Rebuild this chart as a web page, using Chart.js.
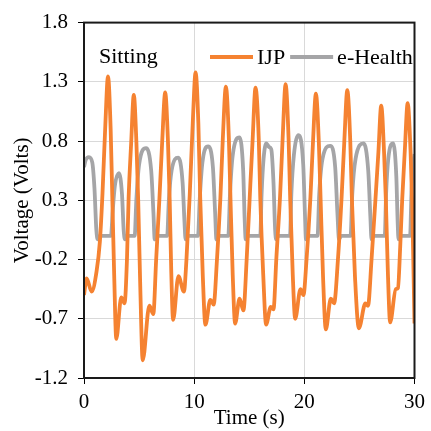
<!DOCTYPE html>
<html>
<head>
<meta charset="utf-8">
<script src="https://cdn.jsdelivr.net/npm/chart.js@4.4.1/dist/chart.umd.min.js"></script>
<style>
  html, body { margin: 0; padding: 0; background: #fff; }
  #wrap { width: 431px; height: 431px; }
</style>
</head>
<body>
<div id="wrap"><canvas id="voltChart" width="431" height="431"></canvas></div>
<script>
// values
const ijpTime = [
  0, 0.24, 0.69, 1.14, 1.44, 1.68, 1.92, 2.18, 2.42, 2.56, 2.74, 2.93, 3.38, 3.68,
  3.90, 4.05, 4.28, 4.52, 4.76, 4.92, 5.10, 5.33, 5.93, 6.29,
  6.55, 6.85, 7.10, 7.37, 7.62, 7.78, 7.92, 8.09, 8.57, 9.07,
  9.30, 9.60, 9.87, 10.13, 10.38, 10.55, 10.78, 11.02, 11.47, 11.77,
  12.07, 12.38, 12.60, 12.88, 13.15, 13.30, 13.50, 13.72, 14.12, 14.47,
  14.77, 15.05, 15.30, 15.57, 15.87, 16.00, 16.27, 16.53, 16.95, 17.20,
  17.46, 17.80, 18.03, 18.30, 18.57, 18.72, 18.95, 19.17, 19.65, 19.92,
  20.20, 20.55, 20.78, 21.05, 21.32, 21.48, 21.70, 21.95, 22.40, 22.70,
  23.05, 23.38, 23.63, 23.90, 24.17, 24.32, 24.60, 24.95, 25.54, 25.78,
  26.10, 26.45, 26.72, 26.98, 27.24, 27.40, 27.58, 27.79, 28.30, 28.50,
  28.70, 28.88, 29.12, 29.38, 29.64, 29.78, 29.92, 30.00
];
const ijpVolts = [
  -0.50, -0.36, -0.47, -0.30, -0.05, 0.36, 0.90, 1.345, 0.90, 0.36, -0.33, -0.87, -0.52, -0.57,
  -0.20, 0.32, 0.78, 1.19, 0.78, 0.30, -0.40, -1.05, -0.59, -0.66,
  -0.20, 0.32, 0.80, 1.21, 0.80, 0.30, -0.30, -0.71, -0.34, -0.47,
  -0.20, 0.35, 0.95, 1.38, 0.95, 0.32, -0.33, -0.75, -0.54, -0.58,
  -0.20, 0.32, 0.82, 1.26, 0.82, 0.30, -0.33, -0.74, -0.53, -0.63,
  -0.19, 0.34, 0.80, 1.25, 0.80, 0.32, -0.33, -0.75, -0.60, -0.62,
  -0.19, 0.34, 0.82, 1.28, 0.82, 0.30, -0.33, -0.70, -0.45, -0.50,
  -0.20, 0.32, 0.78, 1.20, 0.78, 0.30, -0.35, -0.79, -0.53, -0.57,
  -0.20, 0.32, 0.80, 1.23, 0.80, 0.30, -0.35, -0.78, -0.57, -0.59,
  -0.20, 0.30, 0.70, 1.10, 0.70, 0.30, -0.30, -0.73, -0.45, -0.44,
  -0.10, 0.30, 0.72, 1.12, 0.72, 0.30, -0.35, -0.74
];

const ehTime = [
  0, 0.15, 0.45, 0.75, 0.95, 1.12, 1.25, 1.45, 2.45, 2.60, 2.80, 3.17, 3.45, 3.60, 3.72, 3.90,
  4.60, 4.75, 5.00, 5.63, 6.10, 6.30, 6.42, 6.60,
  7.55, 7.70, 7.95, 8.56, 8.95, 9.12, 9.22, 9.40,
  10.35, 10.50, 10.75, 11.26, 11.70, 11.90, 12.02, 12.20,
  13.10, 13.25, 13.50, 14.12, 14.45, 14.58, 14.68, 14.88,
  16.00, 16.12, 16.30, 16.55, 16.80, 17.00, 17.20, 17.35, 17.45, 17.65,
  18.70, 18.82, 19.05, 19.48, 19.90, 20.05, 20.15, 20.35,
  21.20, 21.35, 21.65, 22.35, 22.80, 23.00, 23.15, 23.35,
  24.20, 24.35, 24.65, 25.38, 25.80, 26.00, 26.10, 26.30,
  27.30, 27.42, 27.62, 28.07, 28.35, 28.47, 28.55, 28.75,
  29.60, 29.72, 29.85, 30.00
];
const ehVolts = [
  0.58, 0.64, 0.665, 0.62, 0.40, 0.05, -0.03, 0.00, 0.00, 0.20, 0.42, 0.53, 0.35, 0.05, -0.03, 0.00,
  0.00, 0.30, 0.60, 0.74, 0.55, 0.20, -0.03, 0.00,
  0.00, 0.30, 0.55, 0.66, 0.45, 0.12, -0.03, 0.00,
  0.00, 0.30, 0.62, 0.755, 0.58, 0.20, -0.03, 0.00,
  0.00, 0.35, 0.68, 0.83, 0.55, 0.15, -0.03, 0.00,
  0.00, 0.35, 0.65, 0.78, 0.75, 0.73, 0.45, 0.05, -0.03, 0.00,
  0.00, 0.35, 0.68, 0.85, 0.60, 0.20, -0.03, 0.00,
  0.00, 0.35, 0.65, 0.76, 0.58, 0.20, -0.03, 0.00,
  0.00, 0.35, 0.65, 0.78, 0.55, 0.15, -0.03, 0.00,
  0.00, 0.35, 0.65, 0.78, 0.50, 0.12, -0.03, 0.00,
  0.00, 0.35, 0.58, 0.69
];

const xTicks = [0, 10, 20, 30];
const yTicks = [-1.2, -0.7, -0.2, 0.3, 0.8, 1.3, 1.8];
const seriesNames = ["IJP", "e-Health"];
const panelLabel = "Sitting";

const serif = '"Liberation Serif", "Times New Roman", serif';

function toPoints(xs, ys) {
  return xs.map((x, i) => ({ x: x, y: ys[i] }));
}

// box round the plot, panel label and the legend inside the plot
const framePlugin = {
  id: "frame",
  afterDraw(chart) {
    const { ctx, chartArea: a } = chart;
    ctx.save();
    ctx.strokeStyle = "#1a1a1a";
    ctx.lineWidth = 2;
    ctx.strokeRect(a.left, a.top, a.right - a.left, a.bottom - a.top);

    ctx.font = "22px " + serif;
    ctx.fillStyle = "#000";
    ctx.textBaseline = "alphabetic";
    ctx.fillText(panelLabel, 99, 63);

    let x = 210;
    chart.data.datasets.forEach((ds) => {
      ctx.strokeStyle = ds.borderColor;
      ctx.lineWidth = 3.8;
      ctx.beginPath();
      ctx.moveTo(x, 57);
      ctx.lineTo(x + 43, 57);
      ctx.stroke();
      ctx.fillText(ds.label, x + 47, 64);
      x += 47 + ctx.measureText(ds.label).width + 5;
    });
    ctx.restore();
  },
};

const ctx = document.getElementById("voltChart").getContext("2d");
const voltChart = new Chart(ctx, {
  type: "line",
  data: {
    datasets: [
      {
        label: seriesNames[0],
        data: toPoints(ijpTime, ijpVolts),
        borderColor: "#F58231",
        borderWidth: 3.8,
        pointRadius: 0,
        cubicInterpolationMode: "monotone",
        order: 0,
      },
      {
        label: seriesNames[1],
        data: toPoints(ehTime, ehVolts),
        borderColor: "#A5A5A7",
        borderWidth: 3.8,
        pointRadius: 0,
        cubicInterpolationMode: "monotone",
        order: 1,
      },
    ],
  },
  options: {
    responsive: false,
    animation: false,
    devicePixelRatio: 1,
    layout: { padding: { left: 0, right: 13, top: 17, bottom: 0 } },
    plugins: {
      legend: { display: false },
      tooltip: { enabled: false },
    },
    scales: {
      x: {
        type: "linear",
        min: 0,
        max: 30,
        afterBuildTicks: (scale) => {
          scale.ticks = xTicks.map((v) => ({ value: v }));
        },
        afterFit: (scale) => {
          scale.height = 53;
        },
        grid: { color: "#D9D9D9", lineWidth: 1, tickColor: "#000", tickLength: 6 },
        border: { color: "#1a1a1a", width: 2 },
        ticks: {
          color: "#000",
          padding: 6,
          maxRotation: 0,
          font: { family: serif, size: 21 },
        },
        title: {
          display: true,
          text: "Time (s)",
          color: "#000",
          padding: { top: 0, bottom: 0 },
          font: { family: serif, size: 21 },
        },
      },
      y: {
        type: "linear",
        min: -1.2,
        max: 1.8,
        afterBuildTicks: (scale) => {
          scale.ticks = yTicks.map((v) => ({ value: v }));
        },
        afterFit: (scale) => {
          scale.width = 84;
        },
        grid: { color: "#D9D9D9", lineWidth: 1, tickColor: "#000", tickLength: 6 },
        border: { color: "#1a1a1a", width: 2 },
        ticks: {
          color: "#000",
          padding: 10,
          font: { family: serif, size: 21 },
          callback: (v) => v.toFixed(1),
        },
        title: {
          display: true,
          text: "Voltage (Volts)",
          color: "#000",
          padding: { top: 10, bottom: 0 },
          font: { family: serif, size: 21 },
        },
      },
    },
  },
  plugins: [framePlugin],
});
</script>
</body>
</html>
